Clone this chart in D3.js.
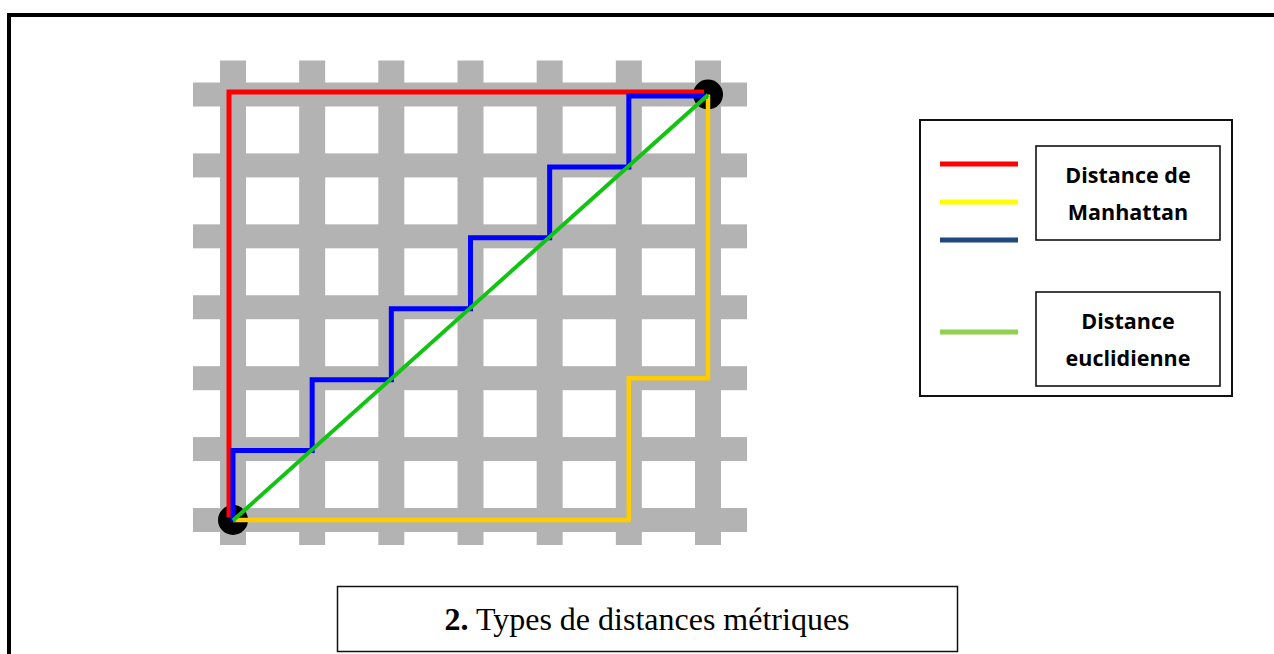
<!DOCTYPE html>
<html>
<head>
<meta charset="utf-8">
<script src="https://cdn.jsdelivr.net/npm/d3@7"></script>
<style>
    body { margin: 0; background: #fff; }
    svg { display: block; }
</style>
</head>
<body>
<div id="chart"></div>
<script>
// Data (grid units, origin at bottom-left point)
var gridLines = [0, 1, 2, 3, 4, 5, 6];

var redPath = [[0, 0], [0, 6], [6, 6]];
var yellowPath = [[0, 0], [5, 0], [5, 2], [6, 2], [6, 6]];
var bluePath = [[0, 0], [0, 1], [1, 1], [1, 2], [2, 2], [2, 3], [3, 3], [3, 4], [4, 4], [4, 5], [5, 5], [5, 6], [6, 6]];
var greenPath = [[0, 0], [6, 6]];
var endPoints = [[0, 0], [6, 6]];

var legendColors = ["#ff0000", "#ffff00", "#1f497d", "#92d050"];
var legendLabels = [["Distance de", "Manhattan"], ["Distance", "euclidienne"]];
var captionBold = "2.";
var captionText = " Types de distances métriques";

var width = 1274, height = 654;

var svg = d3.select("#chart")
    .append("svg")
    .attr("width", width)
    .attr("height", height);

// outer frame (open on right / bottom)
svg.append("path")
    .attr("d", "M9," + (height + 10) + " V15 H" + (width + 10))
    .attr("fill", "none")
    .attr("stroke", "#000")
    .attr("stroke-width", 4);

// scales of the grid
var x = d3.scaleLinear().domain([0, 6]).range([233, 708]);
var y = d3.scaleLinear().domain([0, 6]).range([520, 94.5]);

var defs = svg.append("defs");
defs.append("filter").attr("id", "soft")
    .append("feGaussianBlur").attr("stdDeviation", 0.6);

var grid = svg.append("g").attr("filter", "url(#soft)").attr("fill", "#b3b3b3");

// horizontal bars
grid.selectAll("rect.h")
    .data(gridLines)
    .join("rect")
    .attr("class", "h")
    .attr("x", x(0) - 40)
    .attr("width", x(6) - x(0) + 79)
    .attr("y", d => y(d) - 12)
    .attr("height", 24);

// vertical bars
grid.selectAll("rect.v")
    .data(gridLines)
    .join("rect")
    .attr("class", "v")
    .attr("x", d => x(d) - 13)
    .attr("width", 26)
    .attr("y", y(6) - 34)
    .attr("height", y(0) - y(6) + 59);

// end points
svg.append("g").selectAll("circle")
    .data(endPoints)
    .join("circle")
    .attr("cx", d => x(d[0]))
    .attr("cy", d => y(d[1]))
    .attr("r", 15)
    .attr("fill", "#000");

var line = d3.line().x(d => x(d[0])).y(d => y(d[1]));

function drawPath(data, color, w, dx, dy) {
    svg.append("path")
        .datum(data)
        .attr("d", line)
        .attr("transform", "translate(" + dx + "," + dy + ")")
        .attr("fill", "none")
        .attr("stroke", color)
        .attr("stroke-width", w)
        .attr("stroke-linejoin", "miter")
        .attr("stroke-linecap", "butt");
}

drawPath(redPath, "#ff0000", 5, -4, -2.5);
drawPath(yellowPath, "#ffcc00", 4.5, 0, 0);
drawPath(bluePath, "#0000ff", 5, 0, 1.5);
drawPath(greenPath, "#11c411", 4, 0, 0.5);

// legend
var legend = svg.append("g");
legend.append("rect")
    .attr("x", 920).attr("y", 120)
    .attr("width", 312).attr("height", 276)
    .attr("fill", "#fff").attr("stroke", "#111").attr("stroke-width", 2);

var swatchY = [164, 202, 240, 332];
legend.selectAll("line")
    .data(legendColors)
    .join("line")
    .attr("x1", 940).attr("x2", 1018)
    .attr("y1", (d, i) => swatchY[i]).attr("y2", (d, i) => swatchY[i])
    .attr("stroke", d => d)
    .attr("stroke-width", 5);

var boxY = [146, 292];
legendLabels.forEach(function (lab, i) {
    legend.append("rect")
        .attr("x", 1036).attr("y", boxY[i])
        .attr("width", 184).attr("height", 94)
        .attr("fill", "#fff").attr("stroke", "#111").attr("stroke-width", 1.6);
    legend.append("g").selectAll("text")
        .data(lab)
        .join("text")
        .attr("x", 1128)
        .attr("y", (d, j) => boxY[i] + 37 + j * 37)
        .attr("text-anchor", "middle")
        .attr("font-family", "'Open Sans', Lato, sans-serif")
        .attr("font-weight", "bold")
        .attr("font-size", 21.5)
        .attr("fill", "#000")
        .text(d => d);
});

// caption
svg.append("rect")
    .attr("x", 337.5).attr("y", 586.5)
    .attr("width", 620).attr("height", 65)
    .attr("fill", "#fff").attr("stroke", "#111").attr("stroke-width", 1.5);

var cap = svg.append("text")
    .attr("x", 647).attr("y", 630)
    .attr("text-anchor", "middle")
    .attr("font-family", "'Liberation Serif', 'Times New Roman', serif")
    .attr("font-size", 32)
    .attr("fill", "#000");
cap.append("tspan").attr("font-weight", "bold").text(captionBold);
cap.append("tspan").text(captionText);
</script>
</body>
</html>
